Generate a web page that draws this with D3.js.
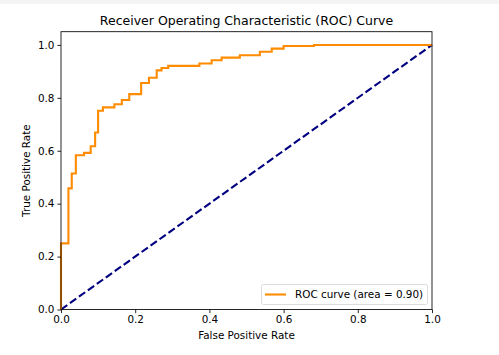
<!DOCTYPE html>
<html><head><meta charset="utf-8">
<script src="https://cdn.jsdelivr.net/npm/d3@7"></script>
<style>
html,body{margin:0;padding:0;background:#fff;}
svg{display:block;font-family:"DejaVu Sans",sans-serif;}
</style></head>
<body><svg id="c" width="499" height="355"></svg>
<script>
// ROC curve step points (False Positive Rate, True Positive Rate)
const fpr = [0, 0, 0.02, 0.02, 0.029, 0.029, 0.04, 0.04, 0.062, 0.062, 0.08, 0.08, 0.092, 0.092, 0.1, 0.1, 0.113, 0.113, 0.144, 0.144, 0.164, 0.164, 0.184, 0.184, 0.216, 0.216, 0.237, 0.237, 0.258, 0.258, 0.271, 0.271, 0.289, 0.289, 0.373, 0.373, 0.406, 0.406, 0.433, 0.433, 0.482, 0.482, 0.536, 0.536, 0.568, 0.568, 0.6, 0.6, 0.682, 0.682, 1.0];
const tpr = [0, 0.25, 0.25, 0.458, 0.458, 0.514, 0.514, 0.583, 0.583, 0.592, 0.592, 0.617, 0.617, 0.669, 0.669, 0.751, 0.751, 0.764, 0.764, 0.776, 0.776, 0.792, 0.792, 0.814, 0.814, 0.856, 0.856, 0.876, 0.876, 0.904, 0.904, 0.913, 0.913, 0.921, 0.921, 0.93, 0.93, 0.942, 0.942, 0.952, 0.952, 0.961, 0.961, 0.974, 0.974, 0.986, 0.986, 0.996, 0.996, 1.0, 1.0];
const diagX = [0, 1];
const diagY = [0, 1];
const xTicks = [0.0, 0.2, 0.4, 0.6, 0.8, 1.0];
const yTicks = [0.0, 0.2, 0.4, 0.6, 0.8, 1.0];
const titleText = "Receiver Operating Characteristic (ROC) Curve";
const xLabel = "False Positive Rate";
const yLabel = "True Positive Rate";
const legendLabel = "ROC curve (area = 0.90)";

const svg = d3.select("#c");
svg.append("rect").attr("x",0).attr("y",0).attr("width",499).attr("height",4).attr("fill","#f4f4f4");

const L = 61, R = 432, T = 31.7, B = 309.5;
const x = d3.scaleLinear().domain([0, 1]).range([L, R]);
const y = d3.scaleLinear().domain([0, 1.05]).range([B, T]);

const g = svg.append("g");
// diagonal
const line = d3.line().x(d => x(d[0])).y(d => y(d[1]));
g.append("path").datum(diagX.map((v,i)=>[v, diagY[i]]))
  .attr("d", line).attr("fill","none").attr("stroke","#000080")
  .attr("stroke-width",2.1).attr("stroke-dasharray","7.7,3.3");
// ROC
g.append("path").datum(fpr.map((v,i)=>[v, tpr[i]]))
  .attr("d", line).attr("fill","none").attr("stroke","#ff8c00")
  .attr("stroke-width",2.1).attr("stroke-linejoin","miter").attr("stroke-linecap","butt");

// spines
svg.append("rect").attr("x",L).attr("y",T).attr("width",R-L).attr("height",B-T)
  .attr("fill","none").attr("stroke","#000").attr("stroke-width",0.85);

const xAxis = d3.axisBottom(x).tickValues(xTicks).tickFormat(d3.format(".1f")).tickSizeOuter(0).tickSize(3.6).tickPadding(3);
const gx = svg.append("g").attr("transform",`translate(0,${B})`).call(xAxis);
const yAxis = d3.axisLeft(y).tickValues(yTicks).tickFormat(d3.format(".1f")).tickSizeOuter(0).tickSize(3.6).tickPadding(3);
const gy = svg.append("g").attr("transform",`translate(${L},0)`).call(yAxis);
[gx, gy].forEach(a => {
  a.select(".domain").remove();
  a.selectAll("text").attr("font-family","DejaVu Sans").attr("font-size","10.4px").attr("fill","#000");
  a.selectAll("line").attr("stroke","#000").attr("stroke-width",0.85);
});

svg.append("text").attr("x",(L+R)/2).attr("y",24.5).attr("text-anchor","middle")
  .attr("font-size","12.5px").attr("fill","#000").text(titleText);
svg.append("text").attr("x",(L+R)/2).attr("y",339).attr("text-anchor","middle")
  .attr("font-size","10.4px").attr("fill","#000").text(xLabel);
svg.append("text").attr("transform",`translate(30,${(T+B)/2}) rotate(-90)`).attr("text-anchor","middle")
  .attr("font-size","10.4px").attr("fill","#000").text(yLabel);

// legend
const lg = svg.append("g");
lg.append("rect").attr("x",261.5).attr("y",284.5).attr("width",166).attr("height",20).attr("rx",2)
  .attr("fill","#fff").attr("fill-opacity",0.8).attr("stroke","#d6d6d6").attr("stroke-width",0.85);
lg.append("line").attr("x1",265).attr("x2",286).attr("y1",294.5).attr("y2",294.5)
  .attr("stroke","#ff8c00").attr("stroke-width",2.1);
lg.append("text").attr("x",295).attr("y",298.3).attr("font-size","10.4px").attr("fill","#000").text(legendLabel);
</script></body></html>
